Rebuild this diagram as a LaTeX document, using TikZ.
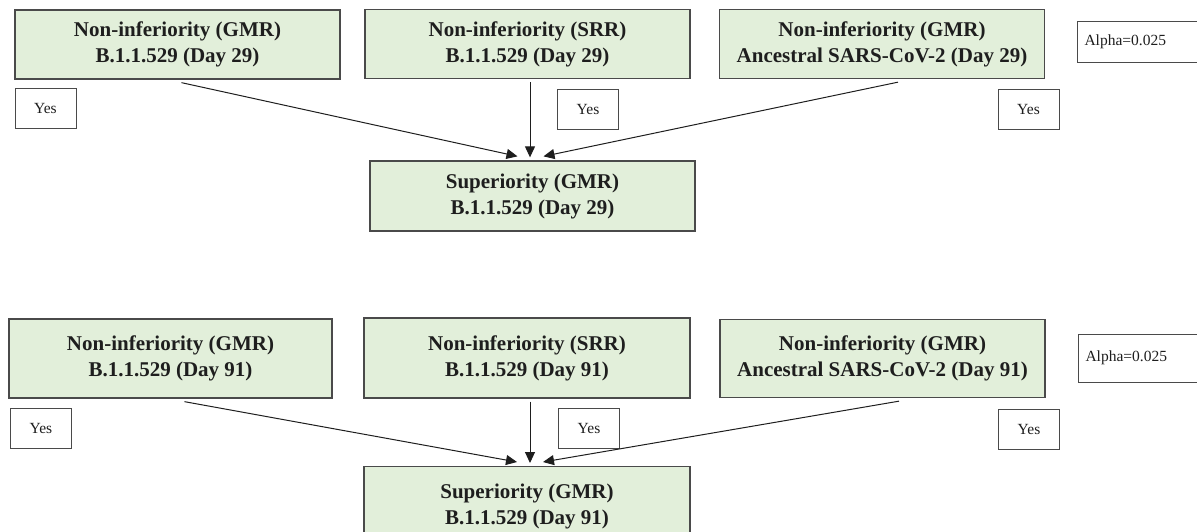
\documentclass[tikz,border=0pt]{standalone}
\usepackage{fontspec}
\setmainfont{Liberation Serif}
\usetikzlibrary{arrows.meta}
\definecolor{boxgreen}{HTML}{E2EFDA}
\definecolor{edgegray}{HTML}{4A4A4A}
\definecolor{inkc}{HTML}{1E1E1E}
\tikzset{
  hyp/.style={draw=edgegray, line width=1.3pt, fill=boxgreen, minimum width=325pt,
    minimum height=69pt, inner sep=0pt, align=center, text=inkc,
    font=\fontsize{21}{26}\selectfont\bfseries},
  yesbox/.style={draw=edgegray, line width=1pt, fill=white, minimum width=61pt,
    minimum height=40pt, inner sep=0pt, text=inkc, font=\fontsize{15.5}{18}\selectfont},
  alphabox/.style={draw=edgegray, line width=1pt, fill=white, text width=122pt,
    inner xsep=7pt, inner ysep=0pt, minimum height=41pt, align=left, anchor=west,
    text=inkc, font=\fontsize{15.5}{18}\selectfont},
  arr/.style={-{Triangle[length=11pt,width=10pt]}, line width=1pt, draw=inkc}
}
\begin{document}
\begin{tikzpicture}[x=1pt,y=-1pt]
\useasboundingbox (0,0) rectangle (1197,531);
\clip (0,0) rectangle (1197,531);
% ---- top group (Day 29)
\node[hyp] (A1) at (177.5,44.5) {Non-inferiority (GMR)\\B.1.1.529 (Day 29)};
\node[hyp] (B1) at (527.5,44) {Non-inferiority (SRR)\\B.1.1.529 (Day 29)};
\node[hyp] (C1) at (882,44) {Non-inferiority (GMR)\\Ancestral SARS-CoV-2 (Day 29)};
\node[alphabox] (P1) at (1077,41.5) {Alpha=0.025};
\node[yesbox] (YL1) at (45.5,108) {Yes};
\node[yesbox] (YM1) at (588,109.5) {Yes};
\node[yesbox] (YR1) at (1028.5,109.5) {Yes};
\node[hyp, minimum height=70pt] (S1) at (532.5,196) {Superiority (GMR)\\B.1.1.529 (Day 29)};
\draw[arr] ([xshift=4pt,yshift=-3pt]A1.south) -- ([xshift=-15pt,yshift=4pt]S1.north);
\draw[arr] ([xshift=2.5pt,yshift=-3pt]B1.south) -- ([xshift=-2.5pt,yshift=3pt]S1.north);
\draw[arr] ([xshift=16pt,yshift=-3pt]C1.south) -- ([xshift=11pt,yshift=4pt]S1.north);
% ---- bottom group (Day 91)
\node[hyp, minimum width=323pt, minimum height=79pt] (A2) at (170.5,358.5) {Non-inferiority (GMR)\\B.1.1.529 (Day 91)};
\node[hyp, minimum width=326pt, minimum height=80pt] (B2) at (527,358) {Non-inferiority (SRR)\\B.1.1.529 (Day 91)};
\node[hyp, minimum height=78pt] (C2) at (882.5,358.5) {Non-inferiority (GMR)\\Ancestral SARS-CoV-2 (Day 91)};
\node[alphabox, minimum height=48pt] (P2) at (1078,358) {Alpha=0.025};
\node[yesbox] (YL2) at (41,428) {Yes};
\node[yesbox] (YM2) at (589,428) {Yes};
\node[yesbox] (YR2) at (1029,429) {Yes};
\node[hyp, minimum width=326pt, minimum height=79pt, anchor=north] (S2) at (527,466) {Superiority (GMR)\\B.1.1.529 (Day 91)};
\draw[arr] ([xshift=14pt,yshift=-3pt]A2.south) -- ([xshift=-10pt,yshift=4pt]S2.north);
\draw[arr] ([xshift=3pt,yshift=-3pt]B2.south) -- ([xshift=3pt,yshift=3pt]S2.north);
\draw[arr] ([xshift=16.5pt,yshift=-3pt]C2.south) -- ([xshift=16pt,yshift=4pt]S2.north);
\end{tikzpicture}
\end{document}
